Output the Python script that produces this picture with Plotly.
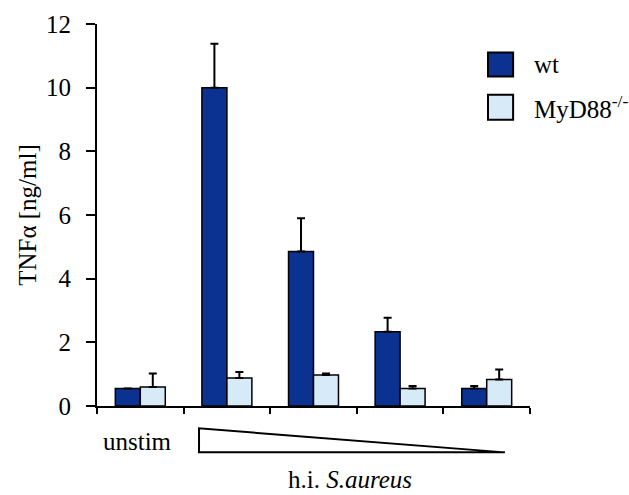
import plotly.graph_objects as go

categories = ["unstim", "dose 1", "dose 2", "dose 3", "dose 4"]
wt_values = [0.55, 10.0, 4.85, 2.33, 0.55]
wt_errors = [0.0, 1.38, 1.05, 0.44, 0.08]
myd_values = [0.6, 0.88, 0.97, 0.55, 0.83]
myd_errors = [0.42, 0.19, 0.05, 0.08, 0.32]
series_names = ["wt", "MyD88<sup>-/-</sup>"]
y_ticks = [0, 2, 4, 6, 8, 10, 12]

WT_COLOR = "#0b3290"
MYD_COLOR = "#d6eaf8"
FONT = "Liberation Serif, Times New Roman, serif"

fig = go.Figure()
for name, vals, errs, color in [
    (series_names[0], wt_values, wt_errors, WT_COLOR),
    (series_names[1], myd_values, myd_errors, MYD_COLOR),
]:
    fig.add_trace(go.Bar(
        x=categories, y=vals, name=name,
        marker=dict(color=color, line=dict(color="black", width=1.5)),
        error_y=dict(type="data", array=errs, arrayminus=[0] * len(errs),
                     symmetric=False, color="black", thickness=2, width=4),
        showlegend=False,
    ))

# legend drawn as boxes + labels
legend_items = [(series_names[0], WT_COLOR, 0.8626, 0.9255),
                (series_names[1], MYD_COLOR, 0.7495, 0.8146)]
for label, color, y0, y1 in legend_items:
    fig.add_shape(type="rect", xref="paper", yref="paper",
                  x0=0.903, x1=0.961, y0=y0, y1=y1,
                  fillcolor=color, line=dict(color="black", width=2))
    fig.add_annotation(xref="paper", yref="paper", x=1.0046, y=(y0 + y1) / 2,
                       text=label, showarrow=False, xanchor="left", yanchor="middle",
                       font=dict(family=FONT, size=25, color="black"))

# dose triangle
fig.add_shape(type="path", xref="paper", yref="paper",
              path="M 0.2356 -0.0585 L 0.2356 -0.1214 L 0.942 -0.1214 Z",
              fillcolor="white", line=dict(color="black", width=2))
fig.add_annotation(xref="paper", yref="paper", x=0.0085, y=-0.094,
                   text="unstim", showarrow=False, xanchor="left", yanchor="middle",
                   font=dict(family=FONT, size=25, color="black"))
fig.add_annotation(xref="paper", yref="paper", x=0.585, y=-0.2335,
                   text="h.i. <i>S.aureus</i>", showarrow=False, xanchor="center",
                   yanchor="bottom",
                   font=dict(family=FONT, size=25, color="black"))

fig.update_layout(
    width=629, height=495,
    margin=dict(l=97, r=99, t=24, b=89),
    paper_bgcolor="white", plot_bgcolor="white",
    barmode="group", bargap=0.423, bargroupgap=0,
    font=dict(family=FONT, size=25, color="black"),
)
fig.update_xaxes(
    showticklabels=False, ticks="outside", tickson="boundaries", ticklen=6,
    tickwidth=2, tickcolor="black", showline=True, linecolor="black", linewidth=2,
    showgrid=False, zeroline=False,
)
fig.update_yaxes(
    range=[0, 12], tickvals=y_ticks, ticks="outside", ticklen=9, tickwidth=2,
    tickcolor="black", showline=True, linecolor="black", linewidth=2,
    showgrid=False, zeroline=False, ticklabelstandoff=10,
    tickfont=dict(family=FONT, size=25, color="black"),
    title=dict(text="TNFα [ng/ml]", font=dict(family=FONT, size=25, color="black"),
               standoff=2),
)

fig.write_html("out.html", config={"displayModeBar": False},
               post_script="document.body.style.margin='0';")
